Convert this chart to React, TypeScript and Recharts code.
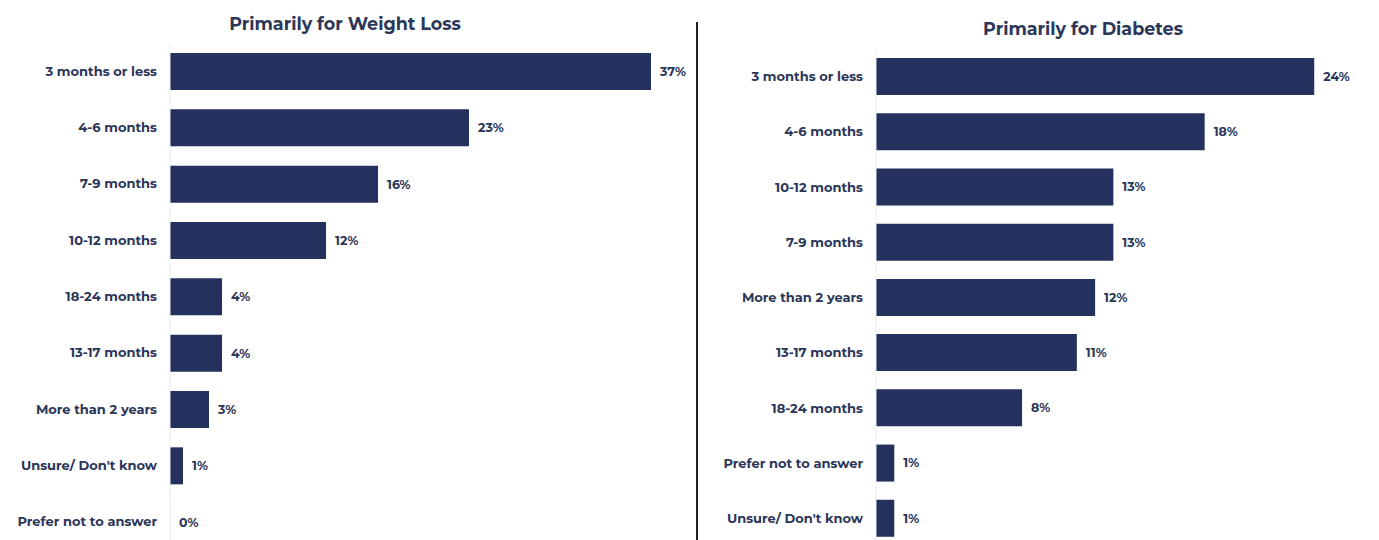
import React from "react";
import { BarChart, Bar, XAxis, YAxis, LabelList } from "recharts";

const weightLossCategories = [
  "3 months or less",
  "4-6 months",
  "7-9 months",
  "10-12 months",
  "18-24 months",
  "13-17 months",
  "More than 2 years",
  "Unsure/ Don't know",
  "Prefer not to answer",
];
const weightLossValues = [37, 23, 16, 12, 4, 4, 3, 1, 0];

const diabetesCategories = [
  "3 months or less",
  "4-6 months",
  "10-12 months",
  "7-9 months",
  "More than 2 years",
  "13-17 months",
  "18-24 months",
  "Prefer not to answer",
  "Unsure/ Don't know",
];
const diabetesValues = [24, 18, 13, 13, 12, 11, 8, 1, 1];

const BAR = "#24315e";
const TEXT = "#2b3658";
const FONT = "Montserrat, 'Open Sans', sans-serif";

const weightLossData = weightLossCategories.map((name, i) => ({
  name,
  value: weightLossValues[i],
}));
const diabetesData = diabetesCategories.map((name, i) => ({
  name,
  value: diabetesValues[i],
}));

const tickStyle = { fill: TEXT, fontSize: 13, fontWeight: 700, fontFamily: FONT };

function Panel({
  data,
  width,
  axisWidth,
  maxX,
  top,
  bottom,
}: {
  data: { name: string; value: number }[];
  width: number;
  axisWidth: number;
  maxX: number;
  top: number;
  bottom: number;
}) {
  return (
    <BarChart
      width={width}
      height={560}
      data={data}
      layout="vertical"
      margin={{ top, right: 10, left: 0, bottom }}
    >
      <XAxis type="number" domain={[0, maxX]} hide allowDataOverflow />
      <YAxis
        type="category"
        dataKey="name"
        width={axisWidth}
        tickLine={false}
        axisLine={{ stroke: "#e9edf4" }}
        tick={tickStyle}
        tickMargin={7}
        interval={0}
      />
      <Bar
        dataKey="value"
        fill={BAR}
        barSize={37}
        minPointSize={0.1}
        isAnimationActive={false}
      >
        <LabelList
          dataKey="value"
          position="right"
          offset={9}
          formatter={(v: any) => `${v}%`}
          style={{ fill: TEXT, fontSize: 12.5, fontWeight: 700, fontFamily: FONT }}
        />
      </Bar>
    </BarChart>
  );
}

export default function App() {
  const titleStyle: React.CSSProperties = {
    position: "absolute",
    fontFamily: FONT,
    fontWeight: 700,
    fontSize: 17.5,
    color: TEXT,
    whiteSpace: "nowrap",
    transform: "translateX(-50%)",
  };
  return (
    <div
      style={{
        position: "absolute",
        left: 0,
        top: 0,
        width: 1379,
        height: 540,
        overflow: "hidden",
        background: "#fff",
      }}
    >
      <div style={{ position: "absolute", left: 0, top: 0 }}>
        <Panel
          data={weightLossData}
          width={700}
          axisWidth={170}
          maxX={40}
          top={43}
          bottom={10}
        />
      </div>
      <div style={{ position: "absolute", left: 700, top: 0 }}>
        <Panel
          data={diabetesData}
          width={679}
          axisWidth={176}
          maxX={27}
          top={49}
          bottom={14}
        />
      </div>
      <div style={{ ...titleStyle, left: 345, top: 13 }}>Primarily for Weight Loss</div>
      <div style={{ ...titleStyle, left: 1083, top: 18 }}>Primarily for Diabetes</div>
      <div
        style={{
          position: "absolute",
          left: 696,
          top: 22,
          width: 2,
          height: 520,
          background: "#1f1f1f",
        }}
      />
    </div>
  );
}
